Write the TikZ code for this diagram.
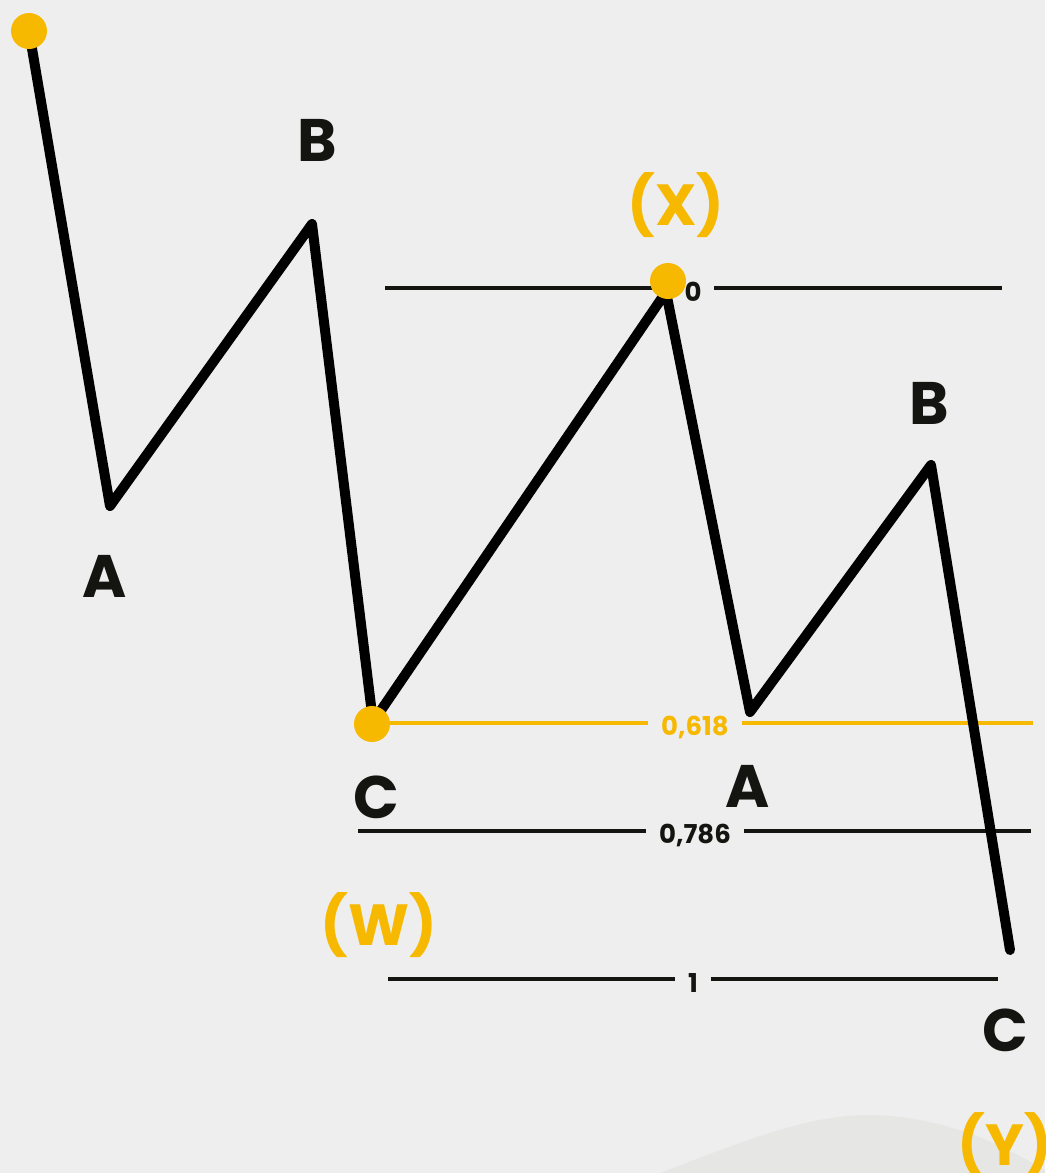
\documentclass[tikz,border=0pt]{standalone}
\usepackage{fontspec}
\setmainfont{Poppins}
\definecolor{bg}{HTML}{EEEEEE}
\definecolor{wave}{HTML}{E6E6E4}
\definecolor{gold}{HTML}{F7B800}
\definecolor{ink}{HTML}{141410}
\begin{document}
\begin{tikzpicture}[x=1pt,y=-1pt,
  zig/.style={line width=10pt,line join=round,line cap=round,black},
  dot/.style={circle,fill=gold,minimum size=36pt,inner sep=0pt},
  lvl/.style={line width=3.5pt,ink},
  lvlg/.style={line width=3.5pt,gold},
  lbl/.style={font=\fontsize{26}{26}\selectfont\bfseries,text=ink,inner sep=0pt,outer sep=13pt},
  lblg/.style={lbl,text=gold},
  big/.style={font=\fontsize{60}{60}\selectfont\bfseries,text=ink,inner sep=0pt},
  bigg/.style={big,text=gold,font=\fontsize{58}{58}\selectfont\bfseries}]
\fill[bg] (0,0) rectangle (1045,1173);
\useasboundingbox (0,0) rectangle (1045,1173);
% faint wave
\fill[wave] (660,1173) .. controls (760,1135) and (820,1110) .. (890,1116)
  .. controls (960,1122) and (1010,1150) .. (1045,1170) -- (1045,1173) -- cycle;
% level lines
\coordinate (l0a) at (385,288); \coordinate (l0b) at (1002,288);
\node[lbl] (t0) at (693,292) {0};
\draw[lvl] (l0a) -- (t0.west |- l0a); \draw[lvl] (t0.east |- l0b) -- (l0b);
\coordinate (l1a) at (373,723); \coordinate (l1b) at (1033,723);
\node[lblg] (t1) at (695,727) {0,618};
\draw[lvlg] (l1a) -- (t1.west |- l1a); \draw[lvlg] (t1.east |- l1b) -- (l1b);
\coordinate (l2a) at (358,831); \coordinate (l2b) at (1031,831);
\node[lbl] (t2) at (695,835) {0,786};
\draw[lvl] (l2a) -- (t2.west |- l2a); \draw[lvl] (t2.east |- l2b) -- (l2b);
\coordinate (l3a) at (388,979); \coordinate (l3b) at (998,979);
\node[lbl] (t3) at (693,983) {1};
\draw[lvl] (l3a) -- (t3.west |- l3a); \draw[lvl] (t3.east |- l3b) -- (l3b);
% zigzag
\coordinate (p0) at (29,31);
\coordinate (a1) at (110,506);
\coordinate (b1) at (312,224);
\coordinate (c1) at (373,722);
\coordinate (x) at (666,292);
\coordinate (a2) at (750,712);
\coordinate (b2) at (931,465);
\coordinate (c2) at (1010,950);
\draw[zig] (p0) -- (a1) -- (b1) -- (c1) -- (x) -- (a2) -- (b2) -- (c2);
% dots
\node[dot] (d0) at (29,31) {};
\node[dot] (d1) at (372,724) {};
\node[dot] (d2) at (668,281) {};
% wave labels
\node[big] (lB1) at (317,140) {B};
\node[big] (lA1) at (105,576) {A};
\node[big] (lC1) at (376,797) {C};
\node[big] (lA2) at (748,786) {A};
\node[big] (lB2) at (929,403) {B};
\node[big] (lC2) at (1005,1030) {C};
\node[bigg] (lX) at (676,205) {(X)};
\node[bigg] (lW) at (379,925) {(W)};
\node[bigg] (lY) at (1005,1145) {(Y)};
\end{tikzpicture}
\end{document}
